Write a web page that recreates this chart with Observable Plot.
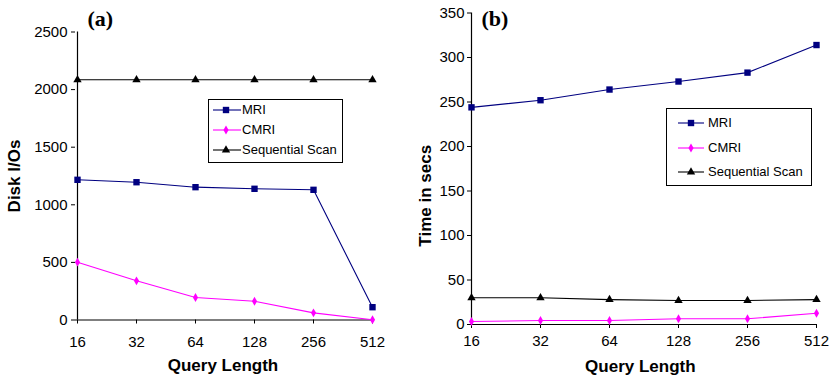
<!DOCTYPE html>
<html>
<head>
<meta charset="utf-8">
<script src="https://cdn.jsdelivr.net/npm/d3@7"></script>
<script src="https://cdn.jsdelivr.net/npm/@observablehq/plot@0.6"></script>
<style>
  body { margin: 0; background: #fff; font-family: Arial, "Liberation Sans", Helvetica, sans-serif; }
  #wrap { position: relative; width: 835px; height: 380px; overflow: hidden; background: #fff; }
  .panel { position: absolute; top: 0; }
  .panel svg { overflow: visible; }
  .legend { position: absolute; box-sizing: border-box; border: 1px solid #000; background: #fff;
            font-family: Arial, "Liberation Sans", sans-serif; font-size: 13px; color: #000; }
  .legend .row { position: absolute; left: 0; height: 16px; display: block; white-space: nowrap; }
  .legend svg { position: absolute; top: 0; left: 0; overflow: visible; }
  .legend span { position: absolute; top: 0; line-height: 16px; }
</style>
</head>
<body>
<div id="wrap"></div>
<script>
// ---- data ----
const queryLengths = ["16", "32", "64", "128", "256", "512"];
const seriesNames = ["MRI", "CMRI", "Sequential Scan"];
const seriesColors = ["#000080", "#FF00FF", "#000000"];
const seriesSymbols = ["square", "diamond", "triangle"];
const seriesRadius = [3.6, 2.7, 3.1];

// (a) Disk I/Os
const diskMRI  = [1217, 1196, 1153, 1139, 1130, 111];
const diskCMRI = [502, 340, 195, 163, 62, 2];
const diskSeq  = [2085, 2085, 2085, 2085, 2085, 2085];
const diskTicks = [0, 500, 1000, 1500, 2000, 2500];

// (b) Time in secs
const timeMRI  = [244, 252, 264, 273, 283, 314];
const timeCMRI = [3.4, 4.5, 4.5, 6.4, 6.4, 12.7];
const timeSeq  = [30, 30, 28, 27, 27, 28];
const timeTicks = [0, 50, 100, 150, 200, 250, 300, 350];

function toRows(seriesValues) {
  const rows = [];
  seriesNames.forEach((s, i) => {
    queryLengths.forEach((q, j) => rows.push({ q, series: s, value: seriesValues[i][j] }));
  });
  return rows;
}

const wrap = document.getElementById("wrap");

function makePanel(cfg) {
  const rows = toRows(cfg.values);
  const seriesMarks = [];
  seriesNames.forEach((s, i) => {
    const data = rows.filter(d => d.series === s);
    seriesMarks.push(Plot.line(data, { x: "q", y: "value", stroke: seriesColors[i], strokeWidth: 1.1 }));
    seriesMarks.push(Plot.dot(data, { x: "q", y: "value", symbol: () => seriesSymbols[i], fill: seriesColors[i], stroke: "none", r: seriesRadius[i] }));
  });
  const chart = Plot.plot({
    width: cfg.width, height: 380,
    marginLeft: cfg.ml, marginRight: cfg.mr, marginTop: cfg.mt, marginBottom: cfg.mb,
    style: { fontFamily: 'Arial, "Liberation Sans", sans-serif', fontSize: "15px", color: "#000", background: "transparent", overflow: "visible" },
    x: { type: "point", domain: queryLengths, padding: 0 },
    y: { domain: cfg.domain },
    symbol: { domain: seriesSymbols, range: seriesSymbols },
    marks: [
      Plot.axisY({ ticks: cfg.ticks, tickFormat: d => String(d), tickSize: 4, tickPadding: cfg.ytp, label: null, stroke: "#000" }),
      Plot.axisX({ tickSize: 4, tickPadding: cfg.xtp, label: null, stroke: "#000" }),
      Plot.ruleY([0], { stroke: "#000", strokeWidth: 1.2 }),
      Plot.ruleX([queryLengths[0]], { stroke: "#000", strokeWidth: 1.2 }),
      ...seriesMarks,
      Plot.text([cfg.yLabel], { text: d => d, frameAnchor: "left", rotate: -90, dx: cfg.yLabelDx, dy: cfg.yLabelDy,
        textAnchor: "middle", lineAnchor: "middle", fontWeight: "bold", fontSize: 17 }),
      Plot.text(["Query Length"], { text: d => d, frameAnchor: "bottom", dx: cfg.xLabelDx, dy: cfg.xLabelDy,
        textAnchor: "middle", lineAnchor: "middle", fontWeight: "bold", fontSize: 17 }),
      Plot.text([cfg.title], { text: d => d, frameAnchor: "top-left", dx: cfg.titleDx, dy: cfg.titleDy,
        textAnchor: "start", lineAnchor: "middle", fontWeight: "bold", fontSize: 22,
        fontFamily: '"Liberation Serif", "Times New Roman", "DejaVu Serif", serif' })
    ]
  });
  const div = document.createElement("div");
  div.className = "panel";
  div.style.left = cfg.left + "px";
  div.appendChild(chart);
  wrap.appendChild(div);
}

function makeLegend(cfg) {
  const box = document.createElement("div");
  box.className = "legend";
  Object.assign(box.style, { left: cfg.left + "px", top: cfg.top + "px", width: cfg.w + "px", height: cfg.h + "px" });
  const d3Types = { square: d3.symbolSquare, diamond: d3.symbolDiamond, triangle: d3.symbolTriangle };
  seriesNames.forEach((s, i) => {
    const row = document.createElement("div");
    row.className = "row";
    row.style.top = (cfg.rowY[i] - 8) + "px";
    row.style.width = "100%";
    const svg = d3.create("svg").attr("width", cfg.textX).attr("height", 16);
    svg.append("line").attr("x1", cfg.lineX1).attr("x2", cfg.lineX2).attr("y1", 8).attr("y2", 8)
      .attr("stroke", seriesColors[i]).attr("stroke-width", 1.1);
    svg.append("path")
      .attr("d", d3.symbol().type(d3Types[seriesSymbols[i]]).size(Math.PI * seriesRadius[i] ** 2)())
      .attr("transform", `translate(${cfg.markX},8)`).attr("fill", seriesColors[i]);
    row.appendChild(svg.node());
    const span = document.createElement("span");
    span.style.left = cfg.textX + "px";
    span.textContent = s;
    row.appendChild(span);
    box.appendChild(row);
  });
  wrap.appendChild(box);
}

makePanel({
  left: 0, width: 415, ml: 75, mr: 41, mt: 31.5, mb: 60.5,
  domain: [0, 2500], ticks: diskTicks, values: [diskMRI, diskCMRI, diskSeq],
  ytp: 4, xtp: 12,
  yLabel: "Disk I/Os", yLabelDx: -61, yLabelDy: 0,
  xLabelDx: -2, xLabelDy: 45.5,
  title: "(a)", titleDx: 12, titleDy: -13.5
});

makePanel({
  left: 415, width: 420, ml: 56, mr: 18.3, mt: 12.5, mb: 56,
  domain: [0, 350], ticks: timeTicks, values: [timeMRI, timeCMRI, timeSeq],
  ytp: 3, xtp: 7,
  yLabel: "Time in secs", yLabelDx: -46, yLabelDy: 27,
  xLabelDx: -4, xLabelDy: 42,
  title: "(b)", titleDx: 10, titleDy: 5.5
});

makeLegend({ left: 208, top: 98.5, w: 135, h: 64, rowY: [10.5, 30.5, 50.5], lineX1: 4, lineX2: 32, markX: 17, textX: 33 });
makeLegend({ left: 666, top: 108, w: 146, h: 78, rowY: [14, 38.5, 63], lineX1: 11, lineX2: 37, markX: 24, textX: 41 });
</script>
</body>
</html>
